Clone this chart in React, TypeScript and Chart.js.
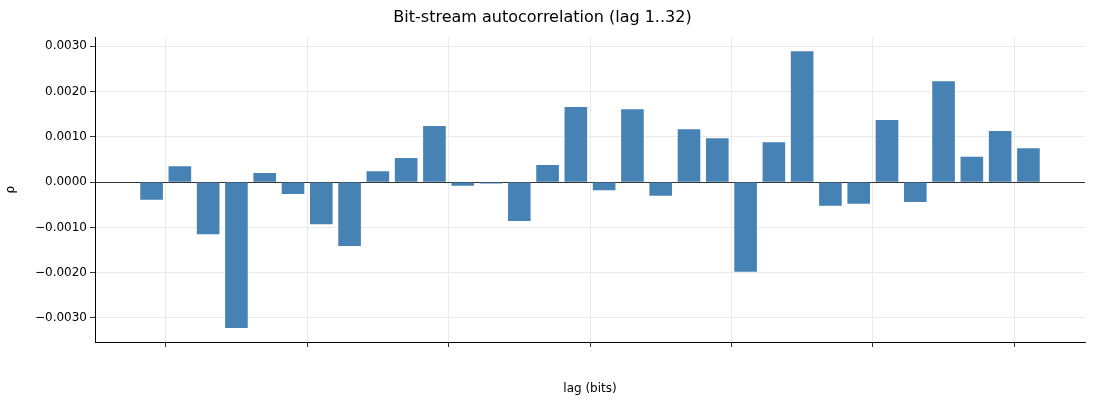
import React, { useEffect, useRef } from "react";
import { Chart, registerables } from "chart.js";
Chart.register(...registerables);

const lags = Array.from({ length: 32 }, (_, i) => i + 1);
const rho = [
  -0.00039, 0.00035, -0.00115, -0.00322, 0.0002, -0.00026, -0.00093, -0.00141,
  0.00024, 0.00053, 0.00124, -0.00008, -0.00003, -0.00086, 0.00038, 0.00166,
  -0.00018, 0.00161, -0.0003, 0.00117, 0.00097, -0.00198, 0.00088, 0.00289,
  -0.00052, -0.00048, 0.00137, -0.00044, 0.00223, 0.00056, 0.00113, 0.00075,
];

export default function App() {
  const ref = useRef<HTMLCanvasElement>(null);
  useEffect(() => {
    document.body.style.margin = "0";
    const font = { family: "DejaVu Sans", size: 12 };
    const chart = new Chart(ref.current!, {
      type: "bar",
      data: {
        datasets: [{
          data: lags.map((l, i) => ({ x: l, y: rho[i] })),
          backgroundColor: "#4682b4",
          categoryPercentage: 0.8,
          barPercentage: 1,
        }],
      },
      options: {
        animation: false,
        responsive: false,
        layout: { padding: { left: 0, right: 15, top: 0, bottom: 0 } },
        plugins: {
          legend: { display: false },
          tooltip: { enabled: false },
          title: {
            display: true, text: "Bit-stream autocorrelation (lag 1..32)",
            color: "#000", font: { family: "DejaVu Sans", size: 16, weight: "normal" },
            padding: { top: 8, bottom: 10 },
          },
        },
        scales: {
          x: {
            type: "linear", min: -1, max: 34, offset: false,
            ticks: { stepSize: 5, color: "#000", font, callback: (v: any) => (v % 5 === 0 && v >= 0 ? String(v) : "") },
            grid: { color: "#e6e6e6", tickColor: "#000", tickLength: 5, lineWidth: 0.8 },
            border: { color: "#000", width: 1 },
            title: { display: true, text: "lag (bits)", color: "#000", font, padding: { top: 4 } },
            afterFit: (s: any) => { s.height = 58; },
          },
          y: {
            min: -0.00353, max: 0.0032,
            afterBuildTicks: (s: any) => {
              s.ticks = [-0.003, -0.002, -0.001, 0, 0.001, 0.002, 0.003].map((v) => ({ value: v }));
            },
            ticks: { color: "#000", font, callback: (v: any) => Number(v).toFixed(4).replace("-", "\u2212") },
            grid: {
              color: (c: any) => (c.tick && Math.abs(c.tick.value) < 1e-9 ? "#000" : "#e6e6e6"),
              tickColor: "#000", tickLength: 5, lineWidth: 0.8,
            },
            border: { color: "#000", width: 1 },
            title: { display: true, text: "ρ", color: "#000", font },
            afterFit: (s: any) => { s.width = 95; },
          },
        },
      },
    });
    return () => chart.destroy();
  }, []);
  return <canvas ref={ref} width={1100} height={400} style={{ display: "block" }} />;
}
